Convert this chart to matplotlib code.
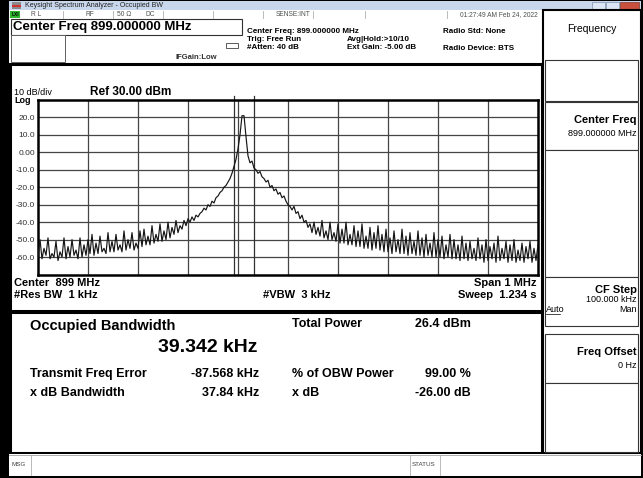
import numpy as np
import matplotlib
matplotlib.use("Agg")
import matplotlib.pyplot as plt
from matplotlib.patches import Rectangle

plt.rcParams['font.family'] = ['Liberation Sans', 'DejaVu Sans']

# ---------------- data ----------------
center_mhz = 899.0
span_mhz = 1.0
ref_dbm = 30.0
db_per_div = 10.0
n_div = 10
obw_khz = 39.342
freq_err_khz = -87.568

trace_dbm = (
    [-60, -50, -61, -55, -59, -49, -61, -58, -60, -51, -62, -57, -60, -49, -61, -54, -60, -50, -59, -56, -61, -49, -60, -53, -59, -50]
    + [-58, -47, -59, -52, -58, -48, -57, -55, -58, -46, -57, -51, -57, -47, -56, -53, -57, -45, -56, -50, -55, -46, -56, -52, -55, -45]
    + [-54, -44, -53, -48, -53, -42, -52, -47, -51, -41, -51, -45, -50, -40, -49]
    + [-43, -47, -39, -46, -42, -44, -39]
    + [-42, -38, -40, -37, -39, -36, -37, -35]
    + [-34, -32, -33, -30, -31, -28, -29]
    + [-26, -25, -23, -22, -20, -19, -17, -15]
    + [-12, -8, -4, 2]
    + [10, 21, 21, 9, -2]
    + [-6, -5, -9]
    + [-10, -12, -11, -14, -15, -17, -16, -20]
    + [-19, -22, -21, -24, -23, -26, -25, -28, -30, -31]
    + [-33, -31, -35, -34, -38, -36, -40, -39, -43, -41]
    + [-46, -40, -47, -43, -48, -39, -49, -45, -50, -40, -50, -46, -51, -41, -52]
    + [-44, -52, -40, -53, -47, -53, -42, -54, -45, -54, -41, -55, -48, -55, -43, -56, -46, -55, -42, -56]
    + [-47, -57, -44, -57, -49, -58, -45, -57, -50, -58, -44, -58, -48, -59, -46, -58, -51, -59, -45, -59,
       -49, -60, -47, -59, -52, -60, -46, -60, -50, -60, -48, -61, -53, -60, -47]
    + [-61, -50, -61, -53, -62, -48, -61, -52, -62, -51, -61, -55, -62, -49, -61, -53, -63, -50, -62, -54,
       -61, -52, -63, -48, -62, -55, -61, -51, -63, -53, -62, -50, -63, -56, -62, -52, -63, -54, -61, -51,
       -63, -55, -62, -53]
)

ytick_vals = [20, 10, 0, -10, -20, -30, -40, -50, -60]
ytick_labels = ['20.0', '10.0', '0.00', '-10.0', '-20.0', '-30.0', '-40.0', '-50.0', '-60.0']

results_left = [("Transmit Freq Error", "-87.568 kHz"), ("x dB Bandwidth", "37.84 kHz")]
results_right = [("% of OBW Power", "99.00 %"), ("x dB", "-26.00 dB")]

# ---------------- figure ----------------
W, H = 643, 478
fig = plt.figure(figsize=(W / 100, H / 100), dpi=100, facecolor='black')

bg = fig.add_axes([0, 0, 1, 1])
bg.set_xlim(0, W)
bg.set_ylim(H, 0)
bg.axis('off')
bg.set_zorder(0)


def rect(x0, y0, x1, y1, fc='white', ec='none', lw=0.8, z=1):
    bg.add_patch(Rectangle((x0, y0), x1 - x0, y1 - y0, facecolor=fc, edgecolor=ec, linewidth=lw, zorder=z))


def txt(x, y, s, size=6, ha='left', weight='normal', color='black', **kw):
    bg.text(x, y, s, fontsize=size, ha=ha, va='center', fontweight=weight, color=color, zorder=5, **kw)


# title bar
rect(9, 1, 641, 10, fc='#c9d7ec')
rect(12, 2, 21, 9, fc='#8a8a8a')
rect(12, 5, 21, 6.5, fc='#d03030')
txt(25, 5.5, "Keysight Spectrum Analyzer - Occupied BW", size=5.0, color='#202020')
rect(592, 2, 605, 9, fc='#dbe5f3', ec='#7d8ea8', lw=0.5)
rect(606, 2, 619, 9, fc='#dbe5f3', ec='#7d8ea8', lw=0.5)
rect(620, 2, 639, 9, fc='#c9503c', ec='#7d3a30', lw=0.5)

# status row
rect(9, 10, 542, 18.5, fc='white')
rect(10, 11, 20, 18, fc='#2fb82f')
txt(15, 14.5, "LXI", size=3.5, ha='center', weight='bold')
for xd in [63, 113, 163, 213, 263, 313, 365, 447]:
    bg.plot([xd, xd], [10.5, 18], color='#b0b0b0', lw=0.6, zorder=3)
txt(31, 14.5, "R L", size=4.8, color='#505050')
txt(85, 14.5, "RF", size=4.8, color='#505050')
txt(117, 14.5, "50 Ω", size=4.8, color='#505050')
txt(146, 14.5, "DC", size=4.8, color='#505050')
txt(311, 14.5, "SENSE:INT", size=4.8, ha='right', color='#505050')
txt(538, 14.5, "01:27:49 AM Feb 24, 2022", size=4.8, ha='right', color='#505050')

# header area
rect(9, 18.5, 542, 63, fc='white')
rect(11, 19, 242, 35, fc='white', ec='#303030', lw=0.8, z=2)
txt(13, 27, "Center Freq 899.000000 MHz", size=9.5, weight='bold')
rect(11, 35, 65, 62, fc='white', ec='#606060', lw=0.7, z=2)
txt(176, 57, "IFGain:Low", size=5.5, weight='bold', color='#303030')
rect(226, 43, 238, 48, fc='white', ec='#404040', lw=0.6, z=2)
txt(247, 31, "Center Freq: 899.000000 MHz", size=5.8, weight='bold')
txt(247, 39, "Trig: Free Run", size=5.8, weight='bold')
txt(247, 47, "#Atten: 40 dB", size=5.8, weight='bold')
txt(347, 39, "Avg|Hold:>10/10", size=5.8, weight='bold')
txt(347, 47, "Ext Gain: -5.00 dB", size=5.8, weight='bold')
txt(443, 31, "Radio Std: None", size=5.8, weight='bold')
txt(443, 48, "Radio Device: BTS", size=5.8, weight='bold')

# graph area
rect(10, 64, 542, 311, fc='white', ec='black', lw=2.2, z=1)
txt(14, 92, "10 dB/div", size=6.5)
txt(14, 100, "Log", size=6.5, weight='bold')
txt(90, 92, "Ref 30.00 dBm", size=8.5, weight='bold')
txt(14, 283, "Center  899 MHz", size=8, weight='bold')
txt(14, 295, "#Res BW  1 kHz", size=8, weight='bold')
txt(263, 295, "#VBW  3 kHz", size=8, weight='bold')
txt(537, 283, "Span 1 MHz", size=8, ha='right', weight='bold')
txt(537, 295, "Sweep  1.234 s", size=8, ha='right', weight='bold')

# results area
rect(10, 312, 542, 453, fc='white', ec='black', lw=2.2, z=1)
txt(30, 326, "Occupied Bandwidth", size=10.5, weight='bold')
txt(258, 348, f"{obw_khz:.3f} kHz", size=14, ha='right', weight='bold')
txt(292, 324, "Total Power", size=9, weight='bold')
txt(415, 324, "26.4 dBm", size=9, weight='bold')
for i, (lab, val) in enumerate(results_left):
    y = 374 + i * 19
    txt(30, y, lab, size=9, weight='bold')
    txt(259, y, val, size=9, ha='right', weight='bold')
for i, (lab, val) in enumerate(results_right):
    y = 374 + i * 19
    txt(292, y, lab, size=9, weight='bold')
    txt(471, y, val, size=9, ha='right', weight='bold')

# message bar
rect(9, 454, 641, 476, fc='white')
for xd in [31, 410, 440]:
    bg.plot([xd, xd], [455, 475], color='#b0b0b0', lw=0.6, zorder=3)
bg.plot([9, 641], [454.5, 454.5], color='#a0a0a0', lw=0.6, zorder=3)
txt(11, 465, "MSG", size=4.5, color='#404040')
txt(412, 465, "STATUS", size=4.5, color='#404040')

# softkey panel
rect(543, 10, 641, 453, fc='white', ec='black', lw=1.5)
txt(592, 29, "Frequency", size=7.5, ha='center')
for (y0, y1) in [(60, 101), (102, 150), (150, 277), (277, 326), (334, 383), (383, 452)]:
    rect(545, y0, 638, y1, fc='white', ec='#353535', lw=0.8, z=2)
txt(637, 120, "Center Freq", size=8, ha='right', weight='bold')
txt(637, 133, "899.000000 MHz", size=6.5, ha='right')
txt(637, 290, "CF Step", size=8, ha='right', weight='bold')
txt(637, 300, "100.000 kHz", size=6.5, ha='right')
txt(546, 310, "Auto", size=6.5)
bg.plot([546, 560], [313.5, 313.5], color='black', lw=0.5, zorder=5)
txt(637, 310, "Man", size=6.5, ha='right')
txt(637, 352, "Freq Offset", size=8, ha='right', weight='bold')
txt(637, 365, "0 Hz", size=6.5, ha='right')

# ---------------- spectrum plot ----------------
x0, x1, y0, y1 = 38, 538, 100, 274.5
ax = fig.add_axes([x0 / W, 1 - y1 / H, (x1 - x0) / W, (y1 - y0) / H])
ax.set_zorder(3)
ax.set_facecolor('white')

f_start = center_mhz - span_mhz / 2
f_stop = center_mhz + span_mhz / 2
freqs = np.linspace(f_start, f_stop, len(trace_dbm))

ax.set_xlim(f_start, f_stop)
ax.set_ylim(ref_dbm - n_div * db_per_div, ref_dbm)
ax.set_xticks(np.linspace(f_start, f_stop, 11)[1:-1])
ax.set_xticklabels([])
ax.set_yticks(ytick_vals)
ax.set_yticklabels(ytick_labels, fontsize=6, color='#303030')
ax.tick_params(length=0, pad=2)
ax.grid(True, color='#454545', lw=0.9)
ax.set_axisbelow(True)
for s in ax.spines.values():
    s.set_linewidth(1.8)
    s.set_color('black')

# OBW markers
fc_meas = center_mhz + freq_err_khz / 1000.0
for fm in [fc_meas - obw_khz / 2000.0, fc_meas + obw_khz / 2000.0]:
    ax.axvline(fm, ymin=0, ymax=1.025, color='#303030', lw=0.9, clip_on=False, zorder=2)

ax.plot(freqs, trace_dbm, color='#151515', lw=0.85, zorder=4)

fig.savefig("out.png", dpi=100, facecolor='black')
